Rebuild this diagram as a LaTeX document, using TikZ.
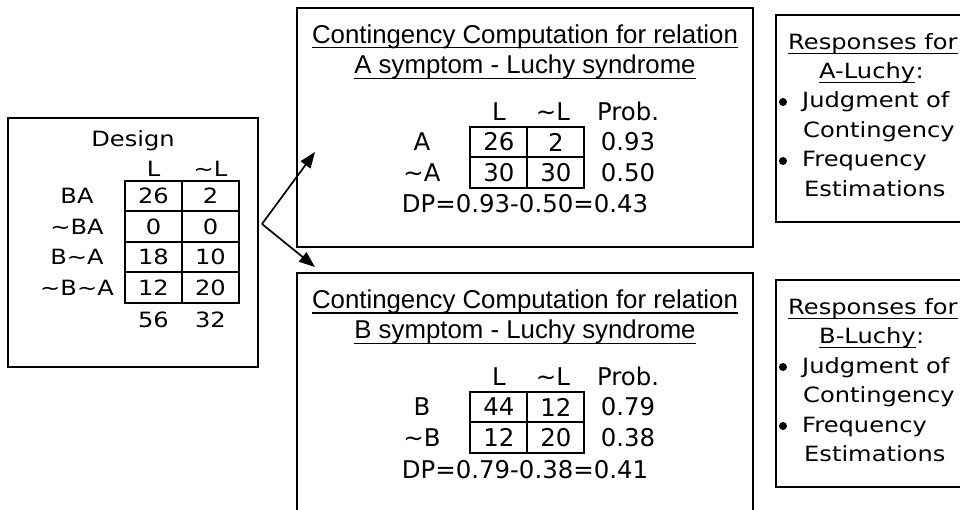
\documentclass[tikz,border=0pt]{standalone}
\usepackage{fontspec}
\usetikzlibrary{arrows.meta}

\newfontfamily\arialfont{Liberation Sans}
\newfontfamily\widefont[FakeStretch=1.15]{DejaVu Sans}
\newfontfamily\tablefont{DejaVu Sans}
\newcommand\notsign{\textasciitilde}

\begin{document}
\begin{tikzpicture}[
					x = 1pt, y = -1pt,
					frame/.style = {
						shape = rectangle,
						draw,
						line width = 1.5pt,
						inner sep = 0,
					},
					cell/.style = {
						shape = rectangle,
						draw,
						line width = 2pt,
						inner sep = 0,
						minimum width = 57pt,
						minimum height = 30.6pt,
					},
					txt/.style = {inner sep = 0},
					heading/.style = {
						inner sep = 0,
						anchor = base,
						font = \arialfont\fontsize{25.8}{30}\selectfont,
					},
					widetext/.style = {font = \widefont\fontsize{21}{25}\selectfont},
					tabtext/.style = {font = \tablefont\fontsize{24.4}{29}\selectfont},
					bullet/.style = {shape = circle, fill, inner sep = 0, minimum size = 8pt},
					uline/.style = {line width = 1.4pt},
					link/.style = {line width = 1.7pt, -{Triangle[length = 16pt, width = 12pt]}},
			]
				\useasboundingbox (0, 0) rectangle (960, 510);
				\clip (0, 0) rectangle (960, 510);

				% design
				\draw (133, 242.5) node (design) [frame, minimum width = 250pt, minimum height = 249pt] {};
				\begin{scope}[every node/.append style = {widetext}]
				\draw (133, 146.5) node (dtitle) [txt, anchor = base] {Design};
				\draw (153.5, 177) node (dhl) [txt, anchor = base] {L};
				\draw (210.5, 177) node (dhn) [txt, anchor = base] {\notsign L};
				\draw (77, 196) node (dr1) [txt] {BA};
				\draw (77, 226.5) node (dr2) [txt] {\notsign BA};
				\draw (77, 257) node (dr3) [txt] {B\notsign A};
				\draw (77, 287.5) node (dr4) [txt] {\notsign B\notsign A};
				\draw (153.5, 196) node (d11) [cell] {26};
				\draw (210.5, 196) node (d12) [cell] {2};
				\draw (153.5, 226.5) node (d21) [cell] {0};
				\draw (210.5, 226.5) node (d22) [cell] {0};
				\draw (153.5, 257) node (d31) [cell] {18};
				\draw (210.5, 257) node (d32) [cell] {10};
				\draw (153.5, 287.5) node (d41) [cell] {12};
				\draw (210.5, 287.5) node (d42) [cell] {20};
				\draw (153.5, 320) node (dsl) [txt] {56};
				\draw (210.5, 320) node (dsn) [txt] {32};
				\end{scope}

				% arrows
				\coordinate (fork) at (262, 224);
				\coordinate (tipA) at (315, 152);
				\coordinate (tipB) at (315, 267);
				\draw [link] (fork) -- (tipA);
				\draw [link] (fork) -- (tipB);

				% A panel
				\draw (525, 127.5) node (panA) [frame, minimum width = 456pt, minimum height = 239pt] {};
				\draw (525, 43.3) node (hA1) [heading] {Contingency Computation for relation};
				\draw (525, 73.3) node (hA2) [heading] {A symptom - Luchy syndrome};
				\draw [uline] ([yshift = -4.5pt] hA1.base west) -- ([yshift = -4.5pt] hA1.base east);
				\draw [uline] ([yshift = -5pt] hA2.base west) -- ([yshift = -5pt] hA2.base east);
				\begin{scope}[every node/.append style = {tabtext}]
				\draw (498.8, 120.7) node (ahl) [txt, anchor = base] {L};
				\draw (553, 120.7) node (ahn) [txt, anchor = base] {\notsign L};
				\draw (628, 120.7) node (ahp) [txt, anchor = base] {Prob.};
				\draw (422, 142) node (ar1) [txt] {A};
				\draw (422, 172.6) node (ar2) [txt] {\notsign A};
				\draw (498.8, 142) node (a11) [cell] {26};
				\draw (555.8, 142) node (a12) [cell] {2};
				\draw (498.8, 172.6) node (a21) [cell] {30};
				\draw (555.8, 172.6) node (a22) [cell] {30};
				\draw (628, 142) node (ap1) [txt] {0.93};
				\draw (628, 172.6) node (ap2) [txt] {0.50};
				\draw (525, 213) node (adp) [txt, anchor = base] {DP=0.93-0.50=0.43};
				\end{scope}

				% B panel
				\draw (525, 396.5) node (panB) [frame, minimum width = 456pt, minimum height = 247pt] {};
				\draw (525, 308.3) node (hB1) [heading] {Contingency Computation for relation};
				\draw (525, 338.3) node (hB2) [heading] {B symptom - Luchy syndrome};
				\draw [uline] ([yshift = -4.5pt] hB1.base west) -- ([yshift = -4.5pt] hB1.base east);
				\draw [uline] ([yshift = -5pt] hB2.base west) -- ([yshift = -5pt] hB2.base east);
				\begin{scope}[every node/.append style = {tabtext}]
				\draw (498.8, 385.7) node (bhl) [txt, anchor = base] {L};
				\draw (553, 385.7) node (bhn) [txt, anchor = base] {\notsign L};
				\draw (628, 385.7) node (bhp) [txt, anchor = base] {Prob.};
				\draw (422, 407) node (br1) [txt] {B};
				\draw (422, 437.6) node (br2) [txt] {\notsign B};
				\draw (498.8, 407) node (b11) [cell] {44};
				\draw (555.8, 407) node (b12) [cell] {12};
				\draw (498.8, 437.6) node (b21) [cell] {12};
				\draw (555.8, 437.6) node (b22) [cell] {20};
				\draw (628, 407) node (bp1) [txt] {0.79};
				\draw (628, 437.6) node (bp2) [txt] {0.38};
				\draw (525, 478) node (bdp) [txt, anchor = base] {DP=0.79-0.38=0.41};
				\end{scope}

				% responses
				\draw (878, 118.5) node (resA) [frame, minimum width = 204pt, minimum height = 207pt] {};
				\draw (878, 383.5) node (resB) [frame, minimum width = 204pt, minimum height = 207pt] {};
				\begin{scope}[every node/.append style = {widetext}]
				\draw (788, 50) node (rA1) [txt, anchor = base west] {Responses for};
				\draw (819, 78.5) node (rA2) [txt, anchor = base west] {A-Luchy};
				\draw (rA2.base east) node (rA2c) [txt, anchor = base west] {:};
				\draw (783, 102) node (rAb1) [bullet] {};
				\draw (802, 108) node (rA3) [txt, anchor = base west] {Judgment of};
				\draw (803, 137.5) node (rA4) [txt, anchor = base west] {Contingency};
				\draw (783, 161) node (rAb2) [bullet] {};
				\draw (802, 167) node (rA5) [txt, anchor = base west] {Frequency};
				\draw (804, 196.5) node (rA6) [txt, anchor = base west] {Estimations};
				\draw [uline] ([yshift = -3.5pt] rA1.base west) -- ([yshift = -3.5pt] rA1.base east);
				\draw [uline] ([yshift = -4pt] rA2.base west) -- ([yshift = -4pt] rA2.base east);

				\draw (788, 315) node (rB1) [txt, anchor = base west] {Responses for};
				\draw (819, 343.5) node (rB2) [txt, anchor = base west] {B-Luchy};
				\draw (rB2.base east) node (rB2c) [txt, anchor = base west] {:};
				\draw (783, 367) node (rBb1) [bullet] {};
				\draw (802, 373) node (rB3) [txt, anchor = base west] {Judgment of};
				\draw (803, 402.5) node (rB4) [txt, anchor = base west] {Contingency};
				\draw (783, 426) node (rBb2) [bullet] {};
				\draw (802, 432) node (rB5) [txt, anchor = base west] {Frequency};
				\draw (804, 461.5) node (rB6) [txt, anchor = base west] {Estimations};
				\draw [uline] ([yshift = -3.5pt] rB1.base west) -- ([yshift = -3.5pt] rB1.base east);
				\draw [uline] ([yshift = -4pt] rB2.base west) -- ([yshift = -4pt] rB2.base east);
				\end{scope}
			\end{tikzpicture}
\end{document}
